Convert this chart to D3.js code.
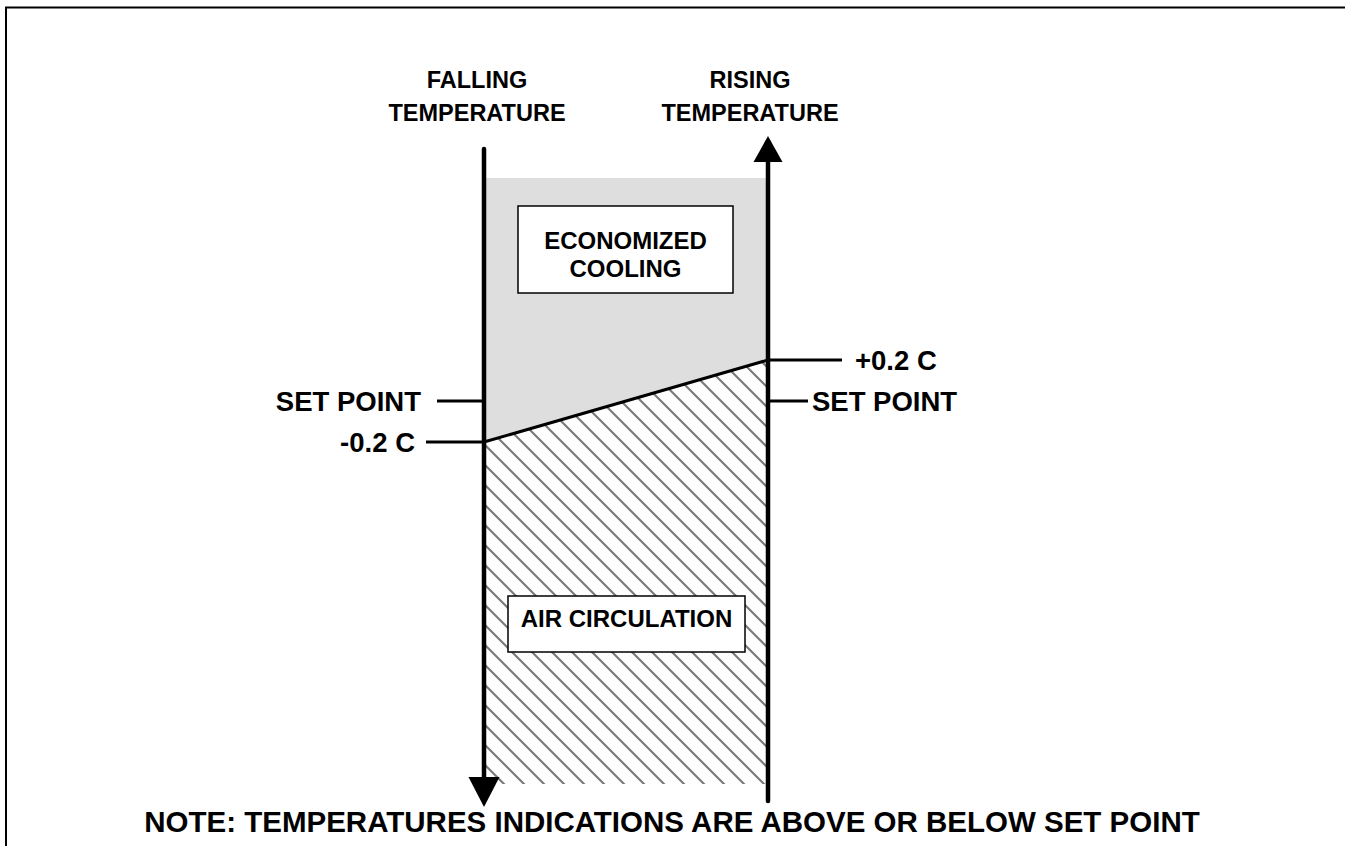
<!DOCTYPE html>
<html>
<head>
<meta charset="utf-8">
<script src="https://cdn.jsdelivr.net/npm/d3@7"></script>
<style>
  html, body { margin: 0; padding: 0; background: #fff; overflow: hidden; }
  svg { display: block; }
  text { font-family: "Liberation Sans", Arial, Helvetica, sans-serif; font-weight: bold; fill: #000; }
</style>
</head>
<body>
<div id="chart"></div>
<script>
// data: the two temperature directions and the switch points (offset from set point, deg C)
const directions = ['FALLING', 'RISING'];
const directionLabels = [['FALLING', 'TEMPERATURE'], ['RISING', 'TEMPERATURE']];
const leftTickValues = [0, -0.2];
const leftTickLabels = ['SET POINT', '-0.2 C'];
const rightTickValues = [0.2, 0];
const rightTickLabels = ['+0.2 C', 'SET POINT'];
// mode changes at -0.2 when falling and +0.2 when rising
const switchPoints = [-0.2, 0.2];
const zoneLabels = [['ECONOMIZED', 'COOLING'], ['AIR CIRCULATION']];
const noteText = 'NOTE: TEMPERATURES INDICATIONS ARE ABOVE OR BELOW SET POINT';

const width = 1345, height = 846;
const svg = d3.select('#chart').append('svg')
    .attr('width', width)
    .attr('height', height);

// scales
const x = d3.scalePoint().domain(directions).range([484, 768]);
const y = d3.scaleLinear().domain([-0.2, 0.2]).range([442, 360]);

const zoneTop = 178, zoneBottom = 784;
const xL = x('FALLING') + 2, xR = x('RISING') - 2;

// hatch pattern
const defs = svg.append('defs');
defs.append('pattern')
    .attr('id', 'hatch')
    .attr('patternUnits', 'userSpaceOnUse')
    .attr('width', 20).attr('height', 20)
  .append('path')
    .attr('d', 'M-5,-5L25,25M-5,15L5,25M15,-5L25,5')
    .attr('stroke', '#7a7a7a')
    .attr('stroke-width', 2.2);

// frame
svg.append('path')
    .attr('d', `M6,${height}V7.5H${width}`)
    .attr('fill', 'none')
    .attr('stroke', '#000')
    .attr('stroke-width', 2);

const switchPts = directions.map((d, i) => [x(d), y(switchPoints[i])]);

// economized cooling zone (above switch line)
svg.append('path')
    .attr('d', d3.line()([[xL, zoneTop], [xR, zoneTop], [xR, y(switchPoints[1])], [xL, y(switchPoints[0])]]) + 'Z')
    .attr('fill', '#dedede');

// air circulation zone (below switch line)
svg.append('path')
    .attr('d', d3.line()([[xL, y(switchPoints[0])], [xR, y(switchPoints[1])], [xR, zoneBottom], [xL, zoneBottom]]) + 'Z')
    .attr('fill', 'url(#hatch)');

// switch line
svg.append('path')
    .attr('d', d3.line()(switchPts))
    .attr('stroke', '#000')
    .attr('stroke-width', 3)
    .attr('fill', 'none');

// zone boxes
const boxes = [
  { x: 518, y: 206, w: 215, h: 87, lines: zoneLabels[0], y0: 249, dy: 28 },
  { x: 508, y: 596, w: 237, h: 56, lines: zoneLabels[1], y0: 627, dy: 0 }
];
boxes.forEach(b => {
  svg.append('rect')
      .attr('x', b.x).attr('y', b.y)
      .attr('width', b.w).attr('height', b.h)
      .attr('fill', '#fff')
      .attr('stroke', '#000')
      .attr('stroke-width', 1.5);
  b.lines.forEach((t, i) => {
    svg.append('text')
        .attr('x', b.x + b.w / 2)
        .attr('y', b.y0 + i * b.dy)
        .attr('text-anchor', 'middle')
        .style('font-size', '24px')
        .text(t);
  });
});

// arrows
const arrowW = 4.5;
// falling: downward
svg.append('line')
    .attr('x1', x('FALLING')).attr('x2', x('FALLING'))
    .attr('y1', 149).attr('y2', 782)
    .attr('stroke', '#000').attr('stroke-width', arrowW)
    .attr('stroke-linecap', 'round');
svg.append('path')
    .attr('d', d3.line()([[x('FALLING') - 15.5, 777], [x('FALLING') + 15.5, 777], [x('FALLING'), 807]]) + 'Z')
    .attr('fill', '#000');
// rising: upward
svg.append('line')
    .attr('x1', x('RISING')).attr('x2', x('RISING'))
    .attr('y1', 801).attr('y2', 158)
    .attr('stroke', '#000').attr('stroke-width', arrowW)
    .attr('stroke-linecap', 'round');
svg.append('path')
    .attr('d', d3.line()([[x('RISING') - 14.5, 162], [x('RISING') + 14.5, 162], [x('RISING'), 136]]) + 'Z')
    .attr('fill', '#000');

// direction headings
const headingX = [477, 750];
directionLabels.forEach((lines, i) => {
  lines.forEach((t, j) => {
    svg.append('text')
        .attr('x', headingX[i])
        .attr('y', 88 + j * 33)
        .attr('text-anchor', 'middle')
        .style('font-size', '23.5px')
        .text(t);
  });
});

// left ticks
const leftTickStart = [437, 426];
const leftTextEnd = [421, 415];
const tickG = svg.append('g');
leftTickValues.forEach((v, i) => {
  tickG.append('line')
      .attr('x1', leftTickStart[i]).attr('x2', x('FALLING'))
      .attr('y1', y(v)).attr('y2', y(v))
      .attr('stroke', '#000').attr('stroke-width', 3);
  tickG.append('text')
      .attr('x', leftTextEnd[i])
      .attr('y', y(v) + 10)
      .attr('text-anchor', 'end')
      .style('font-size', '27.5px')
      .text(leftTickLabels[i]);
});

// right ticks
const rightTickEnd = [842, 808];
const rightTextStart = [855, 812];
rightTickValues.forEach((v, i) => {
  tickG.append('line')
      .attr('x1', x('RISING')).attr('x2', rightTickEnd[i])
      .attr('y1', y(v)).attr('y2', y(v))
      .attr('stroke', '#000').attr('stroke-width', 3);
  tickG.append('text')
      .attr('x', rightTextStart[i])
      .attr('y', y(v) + 10)
      .attr('text-anchor', 'start')
      .style('font-size', '27.5px')
      .text(rightTickLabels[i]);
});

// note
svg.append('text')
    .attr('x', 672)
    .attr('y', 832)
    .attr('text-anchor', 'middle')
    .style('font-size', '29.5px')
    .text(noteText);
</script>
</body>
</html>
